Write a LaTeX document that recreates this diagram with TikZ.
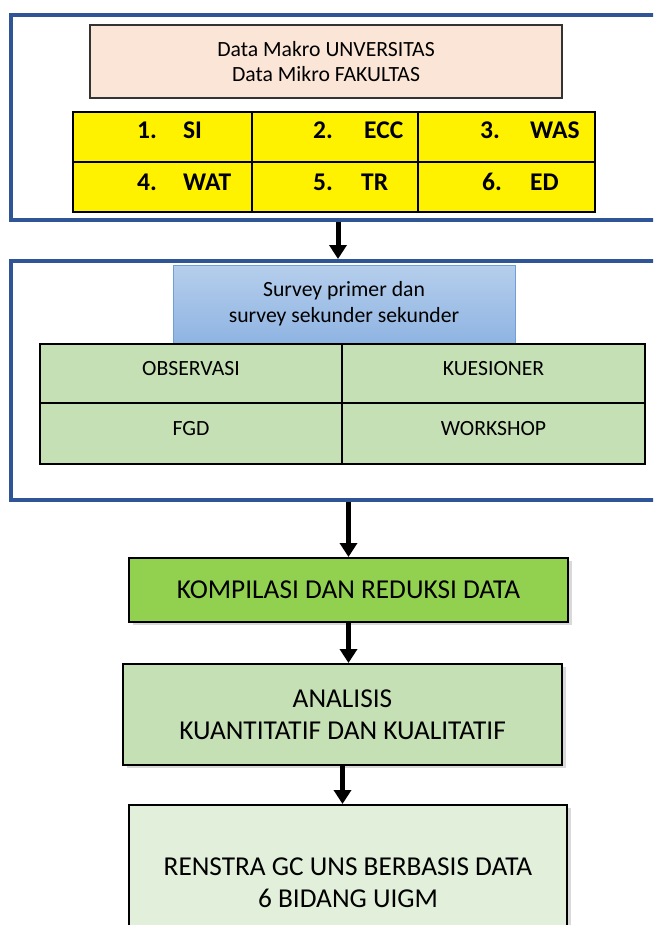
\documentclass[tikz,border=0pt]{standalone}
\usepackage{fontspec}
\setmainfont{Carlito}
\usetikzlibrary{arrows.meta,shadows}
\definecolor{framebl}{RGB}{47,85,151}
\definecolor{peach}{RGB}{251,229,214}
\definecolor{skytop}{RGB}{182,206,236}
\definecolor{skybot}{RGB}{143,180,226}
\definecolor{skyline}{RGB}{110,160,215}
\definecolor{sage}{RGB}{197,224,180}
\definecolor{lime}{RGB}{146,208,80}
\definecolor{mint}{RGB}{226,239,218}

\begin{document}
\begin{tikzpicture}[x=1pt,y=-1pt,>={Triangle[length=14pt,width=17pt]},every node/.style={font=\fontsize{21.7}{25.6}\selectfont}]
  \tikzset{panel/.style={rectangle,draw=framebl,line width=4pt,minimum width=654pt},
    ycell/.style={rectangle,draw,line width=2pt,fill=yellow,minimum height=50pt},
    num/.style={anchor=west,inner sep=0pt,font=\bfseries\fontsize{25.5}{30}\selectfont},
    gcell/.style={rectangle,draw,line width=2pt,fill=sage,text height=14pt,text depth=10.8pt},
    stage/.style={rectangle,draw,line width=2pt,align=center,minimum width=439pt,
      font=\fontsize{27.3}{32}\selectfont,
      drop shadow={shadow xshift=4pt,shadow yshift=-3pt,opacity=0.3}}}
  \useasboundingbox (0,0) rectangle (653,925);
  \clip (0,0) rectangle (653,925);
  \node[panel,minimum height=205pt] (panelA) at (338,117.5) {};
  \node[panel,minimum height=239pt] (panelB) at (338,380.5) {};
  \node[rectangle,draw=black!80,line width=1.5pt,fill=peach,align=center,minimum width=472pt,minimum height=73pt] (makro) at (326,61.5) {Data Makro UNVERSITAS\\Data Mikro FAKULTAS};
  \node[ycell,minimum width=179pt] (c1) at (162.5,137) {};
  \node[ycell,minimum width=166pt] (c2) at (335,137) {};
  \node[ycell,minimum width=177pt] (c3) at (506.5,137) {};
  \node[ycell,minimum width=179pt] (c4) at (162.5,187) {};
  \node[ycell,minimum width=166pt] (c5) at (335,187) {};
  \node[ycell,minimum width=177pt] (c6) at (506.5,187) {};
  \node[num] (si) at (137,130) {\makebox[46pt][l]{1.}SI};
  \node[num] (ecc) at (313,130) {\makebox[51pt][l]{2.}ECC};
  \node[num] (was) at (480,130) {\makebox[50pt][l]{3.}WAS};
  \node[num] (wat) at (137,182) {\makebox[46pt][l]{4.}WAT};
  \node[num] (tr) at (313,182) {\makebox[48pt][l]{5.}TR};
  \node[num] (ed) at (482,182) {\makebox[48pt][l]{6.}ED};
  \node[rectangle,draw=skyline,line width=1pt,top color=skytop,bottom color=skybot,align=center,minimum width=342pt,minimum height=78pt] (survey) at (344,304) {Survey primer dan\\survey sekunder sekunder};
  \node[gcell,minimum width=302pt,minimum height=59pt] (obs) at (191,373.5) {OBSERVASI};
  \node[gcell,minimum width=303pt,minimum height=59pt] (kues) at (493.5,373.5) {KUESIONER};
  \node[gcell,minimum width=302pt,minimum height=61pt] (fgd) at (191,433.5) {FGD};
  \node[gcell,minimum width=303pt,minimum height=61pt] (work) at (493.5,433.5) {WORKSHOP};
  \node[stage,fill=lime,minimum height=64pt] (kompilasi) at (348.5,590) {KOMPILASI DAN REDUKSI DATA};
  \node[stage,fill=sage,minimum height=101pt] (analisis) at (342.5,714.5) {ANALISIS\\KUANTITATIF DAN KUALITATIF};
  \node[stage,fill=mint,minimum width=438pt,minimum height=155pt] (renstra) at (348,882.5) {RENSTRA GC UNS BERBASIS DATA\\6 BIDANG UIGM};
  \draw[->,line width=5pt] (panelA.south) -- (panelB.north);
  \draw[->,line width=5pt] (kompilasi.north |- panelB.south) -- (kompilasi.north);
  \draw[->,line width=5pt] (kompilasi.south) -- (kompilasi.south |- analisis.north);
  \draw[->,line width=5pt] (analisis.south) -- (analisis.south |- renstra.north);
\end{tikzpicture}
\end{document}
